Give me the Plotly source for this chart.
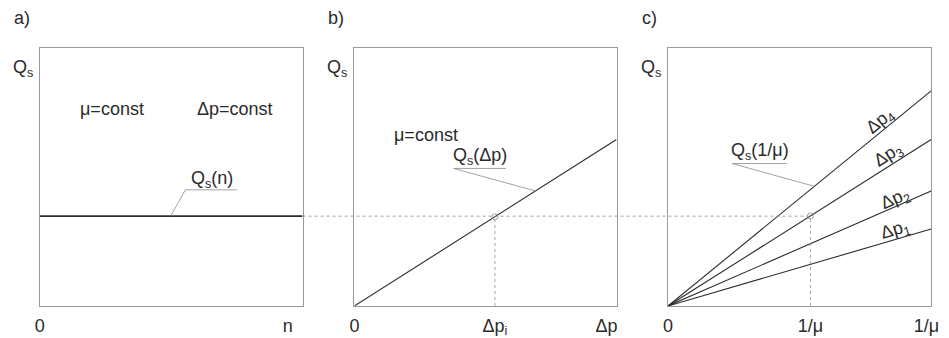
import math
import plotly.graph_objects as go

# panel a: Qs(n) is constant
level = 0.348
n_label_pos = 0.944

# panel b: Qs grows linearly with dp
slope_b = 0.645
dp_i = 0.536

# panel c: one line per pressure drop, Qs against 1/mu
slopes_c = [0.298, 0.446, 0.645, 0.834]
names_c = ["Δp<sub>1</sub>", "Δp<sub>2</sub>", "Δp<sub>3</sub>", "Δp<sub>4</sub>"]
label_xy_c = [(0.865, 0.292), (0.865, 0.412), (0.839, 0.582), (0.809, 0.714)]
inv_mu = 0.541

W, H = 949, 338
FONT = "Liberation Sans, Arial, sans-serif"
INK = "#2a2a2a"
BOX = "#9a9a9a"
THIN = "#8a8a8a"

dom = {
    "a": [35.3 / W, 301.7 / W],
    "b": [354.3 / W, 620 / W],
    "c": [672.3 / W, 939 / W],
}
ydom = [(H - 314.3) / H, (H - 49.3) / H]

fig = go.Figure()


def line(x, y, ax, color=INK, width=1.1, dash=None):
    fig.add_trace(go.Scatter(x=x, y=y, xaxis=ax[0], yaxis=ax[1], mode="lines",
                             line=dict(color=color, width=width, dash=dash),
                             hoverinfo="skip", showlegend=False))


A, B, C = ("x", "y"), ("x2", "y2"), ("x3", "y3")

# a)
line([0, 1], [level, level], A, width=1.6)
line([0.75, 0.554, 0.498], [0.45, 0.45, level], A, color=THIN, width=0.8)

# b)
line([0, 1], [0, slope_b], B)
line([dp_i, dp_i], [0, slope_b * dp_i], B, color=THIN, width=0.8, dash="dot")
line([0.578, 0.379, 0.691], [0.533, 0.533, 0.691 * slope_b], B, color=THIN, width=0.8)
fig.add_trace(go.Scatter(x=[dp_i], y=[slope_b * dp_i], xaxis="x2", yaxis="y2", mode="markers",
                         marker=dict(symbol="circle-open", size=6, color=THIN, line=dict(width=0.8)),
                         hoverinfo="skip", showlegend=False))

# c)
for s in slopes_c:
    line([0, 1], [0, s], C)
line([inv_mu, inv_mu], [0, slopes_c[2] * inv_mu], C, color=THIN, width=0.8, dash="dot")
line([0.451, 0.244, 0.556], [0.552, 0.552, 0.556 * slopes_c[3]], C, color=THIN, width=0.8)
fig.add_trace(go.Scatter(x=[inv_mu], y=[slopes_c[2] * inv_mu], xaxis="x3", yaxis="y3", mode="markers",
                         marker=dict(symbol="circle-open", size=6, color=THIN, line=dict(width=0.8)),
                         hoverinfo="skip", showlegend=False))

# dotted level line running from panel a over to 1/mu in panel c
fig.add_shape(type="line", xref="paper", yref="y",
              x0=dom["a"][1], x1=dom["c"][0] + inv_mu * (dom["c"][1] - dom["c"][0]),
              y0=level, y1=level, line=dict(color=THIN, width=0.8, dash="dot"))

ticks = {
    "xaxis": ([0, n_label_pos], ["0", "n"]),
    "xaxis2": ([0, dp_i, 0.962], ["0", "Δp<sub>i</sub>", "Δp"]),
    "xaxis3": ([0, inv_mu, 0.982], ["0", "1/μ", "1/μ"]),
}
for i, (k, key) in enumerate(zip(["xaxis", "xaxis2", "xaxis3"], ["a", "b", "c"])):
    yk = "yaxis" if i == 0 else f"yaxis{i + 1}"
    tv, tt = ticks[k]
    fig.layout[k] = dict(domain=dom[key], range=[0, 1], showgrid=False, zeroline=False,
                         showline=True, mirror=True, linecolor=BOX, linewidth=1,
                         tickvals=tv, ticktext=tt, ticks="outside", ticklen=3,
                         ticklabeloverflow="allow",
                         tickcolor="rgba(0,0,0,0)", tickfont=dict(size=18, color=INK, family=FONT),
                         anchor="y" if i == 0 else f"y{i + 1}", fixedrange=True)
    fig.layout[yk] = dict(domain=ydom, range=[0, 1], showgrid=False, zeroline=False,
                          showline=True, mirror=True, linecolor=BOX, linewidth=1,
                          showticklabels=False, ticks="",
                          anchor="x" if i == 0 else f"x{i + 1}", fixedrange=True)

    xr = "x domain" if i == 0 else f"x{i + 1} domain"
    yr = "y domain" if i == 0 else f"y{i + 1} domain"
    fig.add_annotation(text=f"{key})", xref=xr, yref=yr, x=-0.069, y=1.118,
                       xanchor="center", yanchor="middle",
                       showarrow=False, font=dict(size=18, color=INK, family=FONT))
    fig.add_annotation(text="Q<sub>s</sub>", xref=xr, yref=yr, x=-0.065, y=0.922,
                       xanchor="center", yanchor="middle",
                       showarrow=False, font=dict(size=18, color=INK, family=FONT))

texts = [
    ("μ=const", "x", "y", 0.273, 0.763, 0),
    ("Δp=const", "x", "y", 0.742, 0.763, 0),
    ("Q<sub>s</sub>(n)", "x", "y", 0.654, 0.49, 0),
    ("μ=const", "x2", "y2", 0.274, 0.661, 0),
    ("Q<sub>s</sub>(Δp)", "x2", "y2", 0.479, 0.578, 0),
    ("Q<sub>s</sub>(1/μ)", "x3", "y3", 0.348, 0.597, 0),
]
for name, (lx, ly), s in zip(names_c, label_xy_c, slopes_c):
    texts.append((name, "x3", "y3", lx, ly, -math.degrees(math.atan(s))))

for t, xr, yr, x, y, ang in texts:
    fig.add_annotation(text=t, xref=xr, yref=yr, x=x, y=y, textangle=ang,
                       xanchor="center", yanchor="middle",
                       showarrow=False, font=dict(size=18, color=INK, family=FONT))

fig.update_layout(width=W, height=H, margin=dict(l=0, r=0, t=0, b=0),
                  paper_bgcolor="white", plot_bgcolor="white",
                  font=dict(family=FONT, color=INK))

fig.write_html("out.html", config={"displayModeBar": False},
               post_script="document.body.style.margin='0';document.body.style.overflow='hidden';")
